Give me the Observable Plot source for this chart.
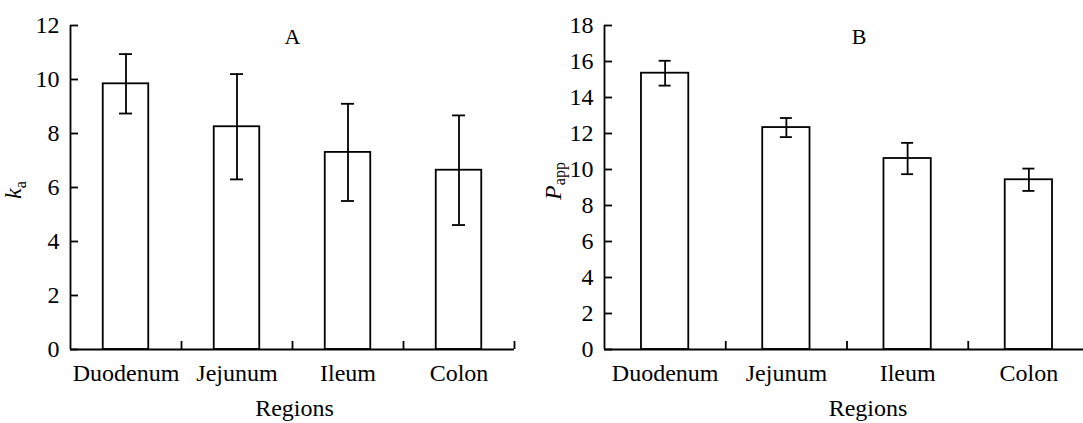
<!DOCTYPE html>
<html><head><meta charset="utf-8">
<script src="https://cdn.jsdelivr.net/npm/d3@7"></script>
<script src="https://cdn.jsdelivr.net/npm/@observablehq/plot@0.6"></script>
<style>
html,body{margin:0;padding:0;background:#fff;overflow:hidden;}
#wrap{position:relative;width:1083px;height:423px;overflow:hidden;}
#a{position:absolute;left:0;top:0;width:540px;}
#b{position:absolute;left:540px;top:0;width:549px;}
svg{max-width:none !important;}
</style></head>
<body><div id="wrap"><div id="a"></div><div id="b"></div></div>
<script>
const regions = ["Duodenum", "Jejunum", "Ileum", "Colon"];
const kaMean = [9.84, 8.25, 7.30, 6.64];
const kaErr = [1.10, 1.95, 1.80, 2.03];
const pappMean = [15.35, 12.33, 10.61, 9.43];
const pappErr = [0.69, 0.53, 0.87, 0.62];
const kaTicks = [0, 2, 4, 6, 8, 10, 12];
const pappTicks = [0, 2, 4, 6, 8, 10, 12, 14, 16, 18];
const xTitle = "Regions";

const FONT = "Liberation Serif, Times New Roman, serif";
const SW = 1.8;

function panel({mean, err, yMax, ticks, width, marginLeft, marginRight, padding, letter, letterDx, xLabelDx, capW}) {
  const data = regions.map((r, i) => ({region: r, mean: mean[i], lo: mean[i] - err[i], hi: mean[i] + err[i]}));
  const marginTop = 25, marginBottom = 74, height = 423;
  const innerW = width - marginLeft - marginRight;
  const step = innerW / regions.length;
  const bw = step * (1 - padding);
  const capInset = (bw - capW) / 2;
  const txt = {fontFamily: FONT, fill: "black", fontSize: 24};
  return Plot.plot({
    width, height, marginTop, marginBottom, marginLeft, marginRight,
    style: {fontFamily: FONT, fontSize: "24px", maxWidth: "none", background: "white"},
    x: {domain: regions, paddingInner: padding, paddingOuter: padding / 2, round: false, axis: null},
    y: {domain: [0, yMax], axis: null},
    marks: [
      Plot.barY(data, {x: "region", y: "mean", fill: "white", stroke: "black", strokeWidth: SW}),
      Plot.ruleX(data, {x: "region", y1: "lo", y2: "hi", stroke: "black", strokeWidth: SW}),
      Plot.tickY(data, {x: "region", y: "lo", insetLeft: capInset, insetRight: capInset, stroke: "black", strokeWidth: SW}),
      Plot.tickY(data, {x: "region", y: "hi", insetLeft: capInset, insetRight: capInset, stroke: "black", strokeWidth: SW}),
      Plot.ruleY([0], {stroke: "black", strokeWidth: SW}),
      Plot.ruleX([regions[0]], {x: d => d, y1: 0, y2: yMax, dx: -step / 2, stroke: "black", strokeWidth: SW}),
      Plot.ruleX(regions, {x: d => d, y1: 0, y2: 0, dx: step / 2, insetTop: -8, stroke: "black", strokeWidth: SW}),
      Plot.ruleY(ticks, {y: d => d, insetRight: innerW - 8, stroke: "black", strokeWidth: SW}),
      Plot.text(ticks, {y: d => d, text: d => String(d), frameAnchor: "left", textAnchor: "end", lineAnchor: "middle", dx: -11, ...txt}),
      Plot.text(regions, {x: d => d, y: 0, text: d => d, lineAnchor: "top", dy: 14, ...txt}),
      Plot.text([letter], {frameAnchor: "top", lineAnchor: "middle", dy: 11, dx: letterDx, ...txt, fontSize: 22}),
      Plot.text([xTitle], {frameAnchor: "bottom", lineAnchor: "middle", dy: 59, dx: xLabelDx, ...txt})
    ]
  });
}

const svgA = panel({mean: kaMean, err: kaErr, yMax: 12, ticks: kaTicks, width: 540, marginLeft: 70, marginRight: 26,
  padding: 0.59, letter: "A", letterDx: 0, xLabelDx: 2, capW: 13});
const svgB = panel({mean: pappMean, err: pappErr, yMax: 18, ticks: pappTicks, width: 549, marginLeft: 64, marginRight: 0,
  padding: 0.61, letter: "B", letterDx: 12, xLabelDx: 21, capW: 12});

function yLabel(svg, x, y, main, sub, subDy) {
  const t = d3.select(svg).append("text")
    .attr("transform", `translate(${x},${y}) rotate(-90)`)
    .attr("text-anchor", "middle")
    .attr("font-family", FONT)
    .attr("fill", "black");
  t.append("tspan").attr("font-style", "italic").attr("font-size", 24).text(main);
  t.append("tspan").attr("font-size", 16).attr("dy", subDy).text(sub);
}
yLabel(svgA, 21, 190, "k", "a", 5);
yLabel(svgB, 21, 181, "P", "app", 4);

document.getElementById("a").appendChild(svgA);
document.getElementById("b").appendChild(svgB);
</script>
</body></html>
